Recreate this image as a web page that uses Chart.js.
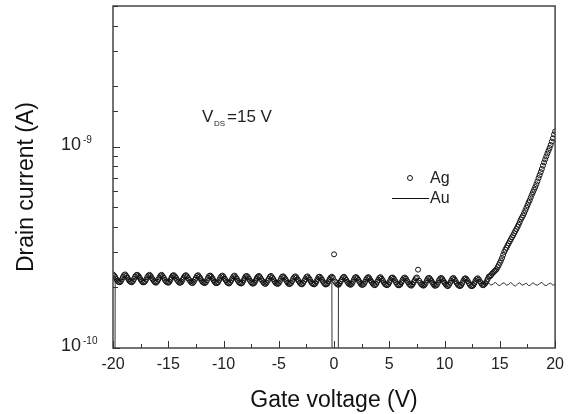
<!DOCTYPE html>
<html>
<head>
<meta charset="utf-8">
<script src="https://cdn.jsdelivr.net/npm/chart.js@4"></script>
<style>
  html, body { margin: 0; padding: 0; background: #fff; }
  #wrap { width: 571px; height: 414px; }
</style>
</head>
<body>
<div id="wrap"><canvas id="chart" width="571" height="414"></canvas></div>
<script>
// gate sweeps: Ag sampled every 0.1 V, Au every 0.2 V, both -20 V .. 20 V
const agVoltage = Array.from({ length: 401 }, (_, i) => Math.round(-200 + i) / 10);
const auVoltage = Array.from({ length: 201 }, (_, i) => Math.round(-100 + i) / 5);

// drain current, in units of 1e-10 A
const agCurrent = [
  2.32, 2.29, 2.25, 2.20, 2.16, 2.13, 2.12, 2.14, 2.19, 2.25, 2.30,
  2.32, 2.28, 2.24, 2.19, 2.15, 2.13, 2.12, 2.15, 2.20, 2.26, 2.30,
  2.31, 2.28, 2.24, 2.19, 2.15, 2.12, 2.12, 2.14, 2.19, 2.25, 2.29,
  2.31, 2.28, 2.23, 2.19, 2.15, 2.12, 2.11, 2.14, 2.19, 2.24, 2.29,
  2.31, 2.27, 2.23, 2.18, 2.14, 2.12, 2.11, 2.13, 2.18, 2.24, 2.29,
  2.30, 2.27, 2.23, 2.18, 2.14, 2.11, 2.11, 2.13, 2.18, 2.24, 2.28,
  2.30, 2.27, 2.22, 2.18, 2.14, 2.11, 2.10, 2.13, 2.18, 2.23, 2.28,
  2.30, 2.26, 2.22, 2.17, 2.13, 2.11, 2.10, 2.12, 2.17, 2.23, 2.28,
  2.29, 2.26, 2.22, 2.17, 2.13, 2.10, 2.10, 2.12, 2.17, 2.23, 2.27,
  2.29, 2.26, 2.21, 2.17, 2.13, 2.10, 2.09, 2.12, 2.17, 2.22, 2.27,
  2.29, 2.25, 2.21, 2.16, 2.12, 2.10, 2.09, 2.11, 2.16, 2.22, 2.27,
  2.28, 2.25, 2.21, 2.16, 2.12, 2.09, 2.09, 2.11, 2.16, 2.22, 2.26,
  2.28, 2.25, 2.20, 2.16, 2.12, 2.09, 2.08, 2.11, 2.16, 2.21, 2.26,
  2.28, 2.24, 2.20, 2.15, 2.11, 2.09, 2.08, 2.10, 2.15, 2.21, 2.26,
  2.27, 2.24, 2.20, 2.15, 2.11, 2.08, 2.08, 2.10, 2.15, 2.21, 2.25,
  2.27, 2.24, 2.19, 2.15, 2.11, 2.08, 2.07, 2.10, 2.15, 2.20, 2.25,
  2.27, 2.23, 2.19, 2.14, 2.10, 2.08, 2.07, 2.09, 2.14, 2.20, 2.25,
  2.26, 2.23, 2.19, 2.14, 2.10, 2.07, 2.07, 2.09, 2.14, 2.20, 2.24,
  2.26, 2.23, 2.92, 2.14, 2.10, 2.07, 2.06, 2.09, 2.14, 2.19, 2.24,
  2.26, 2.22, 2.18, 2.13, 2.09, 2.07, 2.06, 2.08, 2.13, 2.19, 2.24,
  2.25, 2.22, 2.18, 2.13, 2.09, 2.06, 2.06, 2.08, 2.13, 2.19, 2.23,
  2.25, 2.22, 2.17, 2.13, 2.09, 2.06, 2.05, 2.08, 2.13, 2.18, 2.23,
  2.25, 2.21, 2.17, 2.12, 2.08, 2.06, 2.05, 2.07, 2.12, 2.18, 2.23,
  2.24, 2.21, 2.17, 2.12, 2.08, 2.05, 2.05, 2.07, 2.12, 2.18, 2.22,
  2.24, 2.21, 2.16, 2.12, 2.08, 2.05, 2.04, 2.07, 2.12, 2.17, 2.22,
  2.24, 2.45, 2.16, 2.11, 2.07, 2.05, 2.04, 2.06, 2.11, 2.17, 2.22,
  2.23, 2.20, 2.16, 2.11, 2.07, 2.04, 2.04, 2.06, 2.11, 2.17, 2.21,
  2.23, 2.20, 2.15, 2.11, 2.07, 2.04, 2.03, 2.06, 2.11, 2.16, 2.21,
  2.23, 2.19, 2.15, 2.10, 2.06, 2.04, 2.03, 2.05, 2.10, 2.16, 2.21,
  2.22, 2.19, 2.15, 2.10, 2.06, 2.03, 2.03, 2.05, 2.10, 2.16, 2.20,
  2.22, 2.19, 2.14, 2.10, 2.06, 2.05, 2.07, 2.10, 2.14, 2.20, 2.26,
  2.27, 2.30, 2.34, 2.37, 2.40, 2.43, 2.46, 2.52, 2.58, 2.65,
  2.72, 2.80, 2.90, 3.00, 3.08, 3.15, 3.23, 3.31, 3.39, 3.47,
  3.55, 3.63, 3.72, 3.81, 3.90, 4.00, 4.10, 4.22, 4.35, 4.45,
  4.55, 4.68, 4.82, 4.97, 5.12, 5.28, 5.42, 5.60, 5.78, 5.95,
  6.12, 6.30, 6.50, 6.72, 6.98, 7.22, 7.48, 7.75, 8.05, 8.35,
  8.65, 8.95, 9.25, 9.55, 9.85, 10.2, 10.6, 11.0, 11.5, 11.9
];

const auCurrent = [
  0.0001, 2.22, 2.19, 2.17, 2.20, 2.24, 2.25, 2.21, 2.18, 2.18, 2.22,
  2.25, 2.21, 2.18, 2.17, 2.20, 2.24, 2.24, 2.20, 2.17, 2.18, 2.22,
  2.24, 2.21, 2.17, 2.16, 2.19, 2.23, 2.24, 2.20, 2.17, 2.17, 2.21,
  2.24, 2.20, 2.17, 2.16, 2.19, 2.23, 2.23, 2.19, 2.16, 2.17, 2.21,
  2.23, 2.20, 2.16, 2.15, 2.18, 2.22, 2.23, 2.19, 2.16, 2.16, 2.20,
  2.23, 2.19, 2.16, 2.15, 2.18, 2.22, 2.22, 2.18, 2.15, 2.16, 2.20,
  2.22, 2.19, 2.15, 2.14, 2.17, 2.21, 2.22, 2.18, 2.15, 2.15, 2.19,
  2.22, 2.18, 2.15, 2.14, 2.17, 2.21, 2.21, 2.17, 2.14, 2.15, 2.19,
  2.21, 2.18, 2.14, 2.13, 2.16, 2.20, 2.21, 2.17, 2.14, 2.14, 2.18,
  2.20, 0.0001, 0.0001, 2.16, 2.18, 2.20, 2.20, 2.16, 2.13, 2.14, 2.18,
  2.20, 2.17, 2.13, 2.12, 2.15, 2.19, 2.20, 2.16, 2.13, 2.13, 2.17,
  2.19, 2.16, 2.13, 2.12, 2.15, 2.19, 2.19, 2.15, 2.12, 2.13, 2.17,
  2.19, 2.16, 2.12, 2.11, 2.14, 2.18, 2.19, 2.15, 2.12, 2.12, 2.16,
  2.18, 2.15, 2.12, 2.11, 2.14, 2.18, 2.18, 2.14, 2.11, 2.12, 2.16,
  2.18, 2.15, 2.11, 2.10, 2.13, 2.17, 2.18, 2.14, 2.11, 2.11, 2.15,
  2.17, 2.14, 2.11, 2.12, 2.15,
  2.10, 2.05, 2.08, 2.12, 2.06, 2.04, 2.09, 2.11, 2.05, 2.07, 2.12,
  2.06, 2.03, 2.08, 2.11, 2.05, 2.07, 2.10, 2.04, 2.06, 2.11, 2.07,
  2.05, 2.09, 2.12, 2.06, 2.04, 2.08, 2.10, 2.05, 2.07
];

const xTickStep = 2.5;
const yRange = [1e-10, 5e-9];
const xTitle = 'Gate voltage (V)';
const yTitle = 'Drain current (A)';

const UNIT = 1e-10;
const toPoints = (xs, arr) => arr.map((v, i) => ({ x: xs[i], y: v * UNIT }));

const FONT = '"Liberation Sans", Arial, sans-serif';
const isDecade = (v) => Math.abs(Math.log10(v) - Math.round(Math.log10(v))) < 1e-6;

// frame, inward ticks, labels, annotation and legend
const decorPlugin = {
    id: 'decor',
    afterDraw(chart) {
        const { ctx, chartArea: a } = chart;
        const xs = chart.scales.x;
        const ys = chart.scales.y;
        ctx.save();

        // frame
        ctx.strokeStyle = '#444';
        ctx.lineWidth = 1.5;
        ctx.strokeRect(a.left, a.top, a.right - a.left, a.bottom - a.top);

        // x ticks (inward)
        ctx.lineWidth = 1;
        ctx.strokeStyle = '#333';
        xs.ticks.forEach(t => {
            const px = Math.round(xs.getPixelForValue(t.value)) + 0.5;
            const len = t.value % 5 === 0 ? 7 : 4;
            ctx.beginPath();
            ctx.moveTo(px, a.bottom);
            ctx.lineTo(px, a.bottom - len);
            ctx.stroke();
        });

        // y ticks (inward) + decade labels
        ys.ticks.forEach(t => {
            const py = Math.round(ys.getPixelForValue(t.value)) + 0.5;
            const major = isDecade(t.value);
            ctx.beginPath();
            ctx.moveTo(a.left, py);
            ctx.lineTo(a.left + (major ? 7 : 5), py);
            ctx.stroke();
            if (major) {
                const e = Math.round(Math.log10(t.value));
                ctx.fillStyle = '#222';
                ctx.textAlign = 'left';
                ctx.textBaseline = 'alphabetic';
                ctx.font = '18px ' + FONT;
                ctx.fillText('10', 61, py + 2);
                ctx.font = '10px ' + FONT;
                ctx.fillText(String(e), 83, py - 5);
            }
        });

        // axis titles
        ctx.fillStyle = '#111';
        ctx.font = '23px ' + FONT;
        ctx.textAlign = 'center';
        ctx.textBaseline = 'alphabetic';
        ctx.fillText(xTitle, 334, 407);
        ctx.save();
        ctx.translate(33, 272);
        ctx.rotate(-Math.PI / 2);
        ctx.textAlign = 'left';
        ctx.fillText(yTitle, 0, 0);
        ctx.restore();

        // V_DS annotation
        ctx.textAlign = 'left';
        ctx.fillStyle = '#222';
        ctx.font = '17px ' + FONT;
        ctx.fillText('V', 202, 122);
        ctx.font = '8px ' + FONT;
        ctx.fillText('DS', 214, 126);
        ctx.font = '17px ' + FONT;
        ctx.fillText('=15 V', 227, 122);

        // legend
        ctx.strokeStyle = '#111';
        ctx.lineWidth = 1;
        ctx.beginPath();
        ctx.arc(410, 178, 2.5, 0, Math.PI * 2);
        ctx.stroke();
        ctx.beginPath();
        ctx.moveTo(392, 198.5);
        ctx.lineTo(429, 198.5);
        ctx.stroke();
        ctx.font = '16px ' + FONT;
        ctx.fillText('Ag', 430, 183);
        ctx.fillText('Au', 430, 203);

        ctx.restore();
    }
};

new Chart(document.getElementById('chart').getContext('2d'), {
    type: 'scatter',
    data: {
        datasets: [
            {
                label: 'Ag',
                data: toPoints(agVoltage, agCurrent),
                showLine: false,
                pointStyle: 'circle',
                pointRadius: 2.5,
                pointBorderWidth: 1,
                pointBorderColor: '#111',
                pointBackgroundColor: 'rgba(255,255,255,0)'
            },
            {
                label: 'Au',
                data: toPoints(auVoltage, auCurrent),
                showLine: true,
                borderColor: '#333',
                borderWidth: 1,
                pointRadius: 0,
                tension: 0
            }
        ]
    },
    options: {
        responsive: false,
        animation: false,
        layout: { padding: { top: 6, right: 15, left: 0, bottom: 0 } },
        plugins: { legend: { display: false }, tooltip: { enabled: false } },
        scales: {
            x: {
                type: 'linear',
                min: -20,
                max: 20,
                afterFit(s) { s.height = 66; },
                grid: { display: false, drawTicks: false },
                border: { display: false },
                ticks: {
                    stepSize: xTickStep,
                    autoSkip: false,
                    maxRotation: 0,
                    padding: 7,
                    color: '#222',
                    font: { family: FONT, size: 16 },
                    callback: v => (v % 5 === 0 ? String(v) : '')
                }
            },
            y: {
                type: 'logarithmic',
                min: yRange[0],
                max: yRange[1],
                afterFit(s) { s.width = 113; },
                grid: { display: false, drawTicks: false },
                border: { display: false },
                ticks: { display: false, autoSkip: false }
            }
        }
    },
    plugins: [decorPlugin]
});
</script>
</body>
</html>
